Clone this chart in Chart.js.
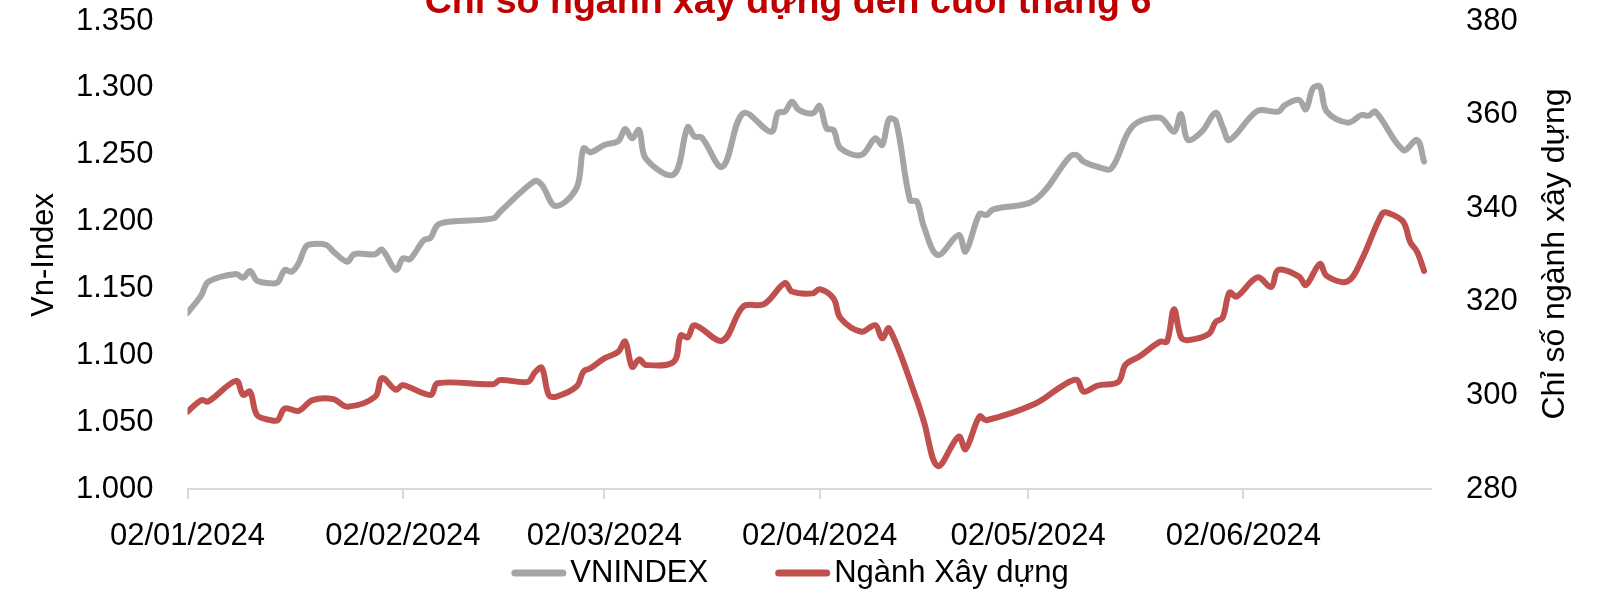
<!DOCTYPE html>
<html><head><meta charset="utf-8">
<script src="https://cdn.jsdelivr.net/npm/chart.js@4.4.1/dist/chart.umd.min.js"></script>
<style>html,body{margin:0;padding:0;background:#fff;}canvas{display:block;}</style>
</head><body>
<canvas id="c" width="1607" height="590"></canvas>
<script>
const chartTitle = 'Chỉ số ngành xây dựng đến cuối tháng 6';
const leftAxisTitle = 'Vn-Index';
const rightAxisTitle = 'Chỉ số ngành xây dựng';
const seriesNames = ['VNINDEX', 'Ngành Xây dựng'];
const seriesColors = ['#A5A5A5', '#C0504D'];

const vnDates = ['2024-01-02','2024-01-04','2024-01-05','2024-01-09','2024-01-10','2024-01-11','2024-01-12','2024-01-14','2024-01-15','2024-01-16','2024-01-17','2024-01-18','2024-01-19','2024-01-20','2024-01-22','2024-01-23','2024-01-25','2024-01-26','2024-01-29','2024-01-30','2024-02-01','2024-02-02','2024-02-03','2024-02-05','2024-02-06','2024-02-07','2024-02-09','2024-02-15','2024-02-16','2024-02-21','2024-02-22','2024-02-24','2024-02-27','2024-02-28','2024-02-29','2024-03-02','2024-03-04','2024-03-05','2024-03-06','2024-03-07','2024-03-08','2024-03-12','2024-03-14','2024-03-15','2024-03-16','2024-03-19','2024-03-22','2024-03-26','2024-03-27','2024-03-28','2024-03-29','2024-03-30','2024-04-01','2024-04-02','2024-04-03','2024-04-04','2024-04-05','2024-04-08','2024-04-10','2024-04-11','2024-04-12','2024-04-13','2024-04-15','2024-04-16','2024-04-17','2024-04-19','2024-04-22','2024-04-23','2024-04-25','2024-04-26','2024-04-27','2024-05-03','2024-05-08','2024-05-09','2024-05-10','2024-05-12','2024-05-14','2024-05-17','2024-05-21','2024-05-23','2024-05-24','2024-05-25','2024-05-27','2024-05-29','2024-05-30','2024-05-31','2024-06-04','2024-06-07','2024-06-08','2024-06-10','2024-06-11','2024-06-12','2024-06-13','2024-06-14','2024-06-17','2024-06-19','2024-06-20','2024-06-21','2024-06-25','2024-06-27','2024-06-28'];
const vnValues = [1131.6,1145,1155,1160.8,1158,1163,1155.8,1153.8,1154.6,1163.8,1162.5,1168.8,1181,1183.2,1182.5,1177.5,1170,1175.7,1175.5,1179,1163.8,1172.5,1171.8,1186,1188,1197.4,1200,1202.4,1207.4,1230.3,1227.4,1211.6,1225,1254.8,1251.8,1257.3,1260.2,1269.2,1262.2,1268.5,1247,1235.3,1270.5,1263.5,1263,1241,1281,1267.2,1281.4,1282.2,1289.7,1283.5,1281,1286.4,1269.7,1268.5,1254.8,1249.8,1262.3,1257.3,1276.7,1274.7,1216.2,1214.9,1196.2,1175,1190,1177.5,1205.7,1204.9,1209.2,1216.2,1248.5,1249.8,1244.8,1241,1239.8,1271,1277.7,1267.2,1280.4,1261,1267.2,1281.4,1271,1261,1282.7,1282.2,1287.2,1291,1284,1299.7,1300.9,1282.2,1274,1279.7,1279.2,1282.2,1253.5,1261,1244.8];

const xdDates = ['2024-01-02','2024-01-04','2024-01-05','2024-01-09','2024-01-10','2024-01-11','2024-01-12','2024-01-14','2024-01-15','2024-01-16','2024-01-18','2024-01-20','2024-01-23','2024-01-25','2024-01-29','2024-01-30','2024-02-01','2024-02-02','2024-02-06','2024-02-07','2024-02-15','2024-02-16','2024-02-20','2024-02-21','2024-02-22','2024-02-23','2024-02-24','2024-02-27','2024-02-28','2024-02-29','2024-03-02','2024-03-04','2024-03-05','2024-03-06','2024-03-07','2024-03-08','2024-03-12','2024-03-13','2024-03-14','2024-03-15','2024-03-19','2024-03-22','2024-03-25','2024-03-28','2024-03-29','2024-04-01','2024-04-02','2024-04-04','2024-04-05','2024-04-08','2024-04-10','2024-04-11','2024-04-12','2024-04-16','2024-04-17','2024-04-19','2024-04-22','2024-04-23','2024-04-25','2024-04-26','2024-05-03','2024-05-07','2024-05-09','2024-05-10','2024-05-12','2024-05-15','2024-05-16','2024-05-18','2024-05-21','2024-05-22','2024-05-23','2024-05-24','2024-05-25','2024-05-28','2024-05-29','2024-05-30','2024-05-31','2024-06-01','2024-06-04','2024-06-06','2024-06-07','2024-06-10','2024-06-11','2024-06-13','2024-06-14','2024-06-17','2024-06-19','2024-06-22','2024-06-23','2024-06-25','2024-06-26','2024-06-27','2024-06-28'];
const xdValues = [296.5,299,298.7,303.1,300.1,300.8,295.8,294.7,294.7,297.2,296.7,299,299.2,297.6,299.7,303.7,301.2,302.2,300.1,302.6,302.4,303.3,302.9,304.9,305.9,300.1,299.7,301.9,305.1,305.8,307.9,309.3,311.5,306.1,307.7,306.5,307.2,312.8,312.4,315,311.7,319,319.5,324,322.2,321.8,322.7,320.7,316.5,313.6,315,312.2,314.3,299,294.4,284.9,291.2,288.5,295.5,294.7,298.2,302.1,303.3,300.8,302.1,302.9,306.5,308.3,311.5,311.5,318.4,312.5,311.8,313.1,315.7,316.6,322,321.1,325.2,323.2,326.8,325.4,323.6,328.1,325.5,324.4,328.9,338.9,338.9,337.1,332.8,330.7,326.6];

const xStartDate = '2024-01-02';
const xEndDate = '2024-06-29';
const xTickDates = ['2024-01-02','2024-02-02','2024-03-02','2024-04-02','2024-05-02','2024-06-02'];
const xTickLabels = ['02/01/2024','02/02/2024','02/03/2024','02/04/2024','02/05/2024','02/06/2024'];
const leftTickValues = [1000,1050,1100,1150,1200,1250,1300,1350];
const leftTickLabels = ['1.000','1.050','1.100','1.150','1.200','1.250','1.300','1.350'];
const rightTickValues = [280,300,320,340,360,380];
const rightTickLabels = ['280','300','320','340','360','380'];

const FONT = "'Liberation Sans', Arial, sans-serif";
function dayOf(s) {
  const [y, m, d] = s.split('-').map(Number);
  const [y0, m0, d0] = xStartDate.split('-').map(Number);
  return Math.round((Date.UTC(y, m - 1, d) - Date.UTC(y0, m0 - 1, d0)) / 86400000);
}
function noPad(s) { s.paddingTop = 0; s.paddingBottom = 0; s.paddingLeft = 0; s.paddingRight = 0; }

const decor = {
  id: 'decor',
  afterDraw(chart) {
    const ctx = chart.ctx;
    ctx.save();
    ctx.fillStyle = '#C00000';
    ctx.font = 'bold 100px ' + FONT;
    const w100 = ctx.measureText(chartTitle).width;
    const fs = 100 * 728 / w100;
    ctx.font = 'bold ' + fs.toFixed(1) + 'px ' + FONT;
    ctx.textAlign = 'center';
    ctx.textBaseline = 'alphabetic';
    ctx.fillText(chartTitle, 788, 12.5);
    ctx.fillStyle = '#000';
    ctx.font = '32px ' + FONT;
    ctx.save();
    ctx.translate(1555, 254);
    ctx.rotate(-Math.PI / 2);
    ctx.textBaseline = 'middle';
    ctx.textAlign = 'center';
    ctx.fillText(rightAxisTitle, 0, 0);
    ctx.restore();
    ctx.font = '31px ' + FONT;
    ctx.textBaseline = 'middle';
    ctx.textAlign = 'left';
    const lineLen = 55, gap = 4, itemGap = 67;
    const widths = seriesNames.map(n => ctx.measureText(n).width);
    const total = lineLen * 2 + gap * 2 + widths[0] + widths[1] + itemGap;
    let x = 790 - total / 2;
    const ly = 573;
    seriesNames.forEach((n, i) => {
      ctx.strokeStyle = seriesColors[i];
      ctx.lineWidth = 7;
      ctx.lineCap = 'round';
      ctx.beginPath();
      ctx.moveTo(x + 3.5, ly);
      ctx.lineTo(x + lineLen - 3.5, ly);
      ctx.stroke();
      ctx.fillStyle = '#000';
      ctx.fillText(n, x + lineLen + gap, ly);
      x += lineLen + gap + widths[i] + itemGap;
    });
    ctx.restore();
  }
};

new Chart(document.getElementById('c'), {
  type: 'line',
  data: {
    datasets: [
      {
        label: seriesNames[0],
        data: vnDates.map((d, i) => ({ x: dayOf(d), y: vnValues[i] })),
        borderColor: seriesColors[0], backgroundColor: seriesColors[0],
        borderWidth: 6, pointRadius: 0, tension: 0.35,
        borderCapStyle: 'round', borderJoinStyle: 'round',
        yAxisID: 'yL'
      },
      {
        label: seriesNames[1],
        data: xdDates.map((d, i) => ({ x: dayOf(d), y: xdValues[i] })),
        borderColor: seriesColors[1], backgroundColor: seriesColors[1],
        borderWidth: 6, pointRadius: 0, tension: 0.35,
        borderCapStyle: 'round', borderJoinStyle: 'round',
        yAxisID: 'yR'
      }
    ]
  },
  options: {
    responsive: false,
    animation: false,
    layout: { padding: { top: 21, left: 0, right: 0, bottom: 0 } },
    plugins: { legend: { display: false }, tooltip: { enabled: false }, title: { display: false } },
    scales: {
      x: {
        type: 'linear', position: 'bottom',
        min: dayOf(xStartDate), max: dayOf(xEndDate),
        afterBuildTicks: s => { s.ticks = xTickDates.map(d => ({ value: dayOf(d) })); },
        ticks: {
          autoSkip: false, maxRotation: 0, minRotation: 0,
          callback: (v, i) => xTickLabels[i],
          font: { family: FONT, size: 31 }, color: '#000', padding: 19
        },
        grid: { drawOnChartArea: false, drawTicks: true, tickLength: 10, color: '#D9D9D9', lineWidth: 2 },
        border: { display: true, color: '#D9D9D9', width: 2 },
        afterFit: s => { s.height = 101; noPad(s); }
      },
      yL: {
        type: 'linear', position: 'left',
        min: 1000, max: 1350,
        afterBuildTicks: s => { s.ticks = leftTickValues.map(v => ({ value: v })); },
        ticks: {
          callback: (v, i) => leftTickLabels[i],
          font: { family: FONT, size: 31 }, color: '#000', padding: 34
        },
        grid: { display: false, drawTicks: false },
        border: { display: false },
        title: { display: true, text: leftAxisTitle, font: { family: FONT, size: 31 }, color: '#000', padding: { top: 26, bottom: 0 } },
        afterFit: s => { s.width = 187.5; noPad(s); }
      },
      yR: {
        type: 'linear', position: 'right',
        min: 280, max: 380,
        afterBuildTicks: s => { s.ticks = rightTickValues.map(v => ({ value: v })); },
        ticks: {
          callback: (v, i) => rightTickLabels[i],
          font: { family: FONT, size: 31 }, color: '#000', padding: 35
        },
        grid: { display: false, drawTicks: false },
        border: { display: false },
        afterFit: s => { s.width = 176; noPad(s); }
      }
    }
  },
  plugins: [decor]
});
</script>
</body></html>
